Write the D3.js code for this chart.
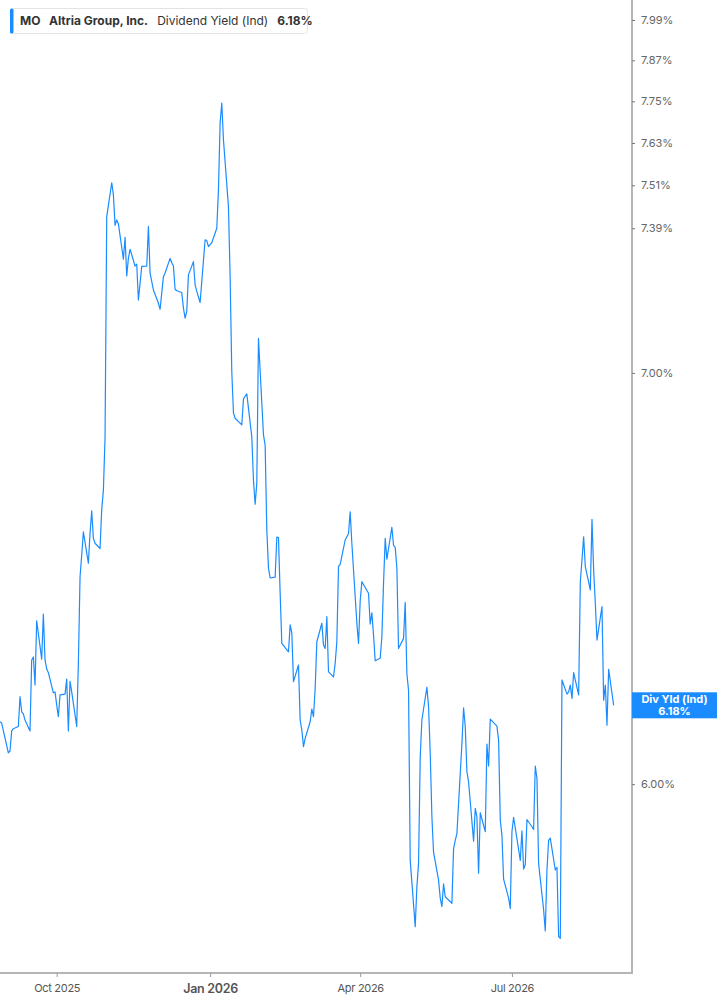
<!DOCTYPE html>
<html>
<head>
<meta charset="utf-8">
<script src="https://cdn.jsdelivr.net/npm/d3@7"></script>
<style>
  body { margin: 0; background: #fff; font-family: Inter, "Noto Sans", sans-serif; }
</style>
</head>
<body>
<div id="chart"></div>
<script>
// MO dividend yield, one value per trading day
const startDate = "2025-08-28";
const holidays = ["2025-09-01", "2025-11-27", "2025-12-25", "2026-01-01", "2026-01-19",
  "2026-02-16", "2026-04-03", "2026-05-25", "2026-06-19", "2026-07-03"];

const yieldValues = [
  6.142, 6.139, 6.071, 6.075, 6.121, 6.126, 6.131, 6.200, 6.165, 6.160,
  6.146, 6.121, 6.286, 6.293, 6.227, 6.379, 6.288, 6.395, 6.286, 6.265,
  6.256, 6.209, 6.211, 6.181, 6.154, 6.204, 6.206, 6.241, 6.121, 6.236,
  6.211, 6.131, 6.279, 6.485, 6.538, 6.595, 6.518, 6.592, 6.647, 6.579,
  6.567, 6.554, 6.651, 6.699, 6.834, 7.422, 7.517, 7.483, 7.398, 7.413,
  7.402, 7.305, 7.365, 7.259, 7.307, 7.332, 7.286, 7.291, 7.194, 7.239,
  7.285, 7.286, 7.395, 7.267, 7.221, 7.185, 7.169, 7.213, 7.257, 7.267,
  7.307, 7.295, 7.286, 7.223, 7.219, 7.214, 7.172, 7.145, 7.163, 7.262,
  7.298, 7.235, 7.217, 7.187, 7.358, 7.356, 7.339, 7.350, 7.390, 7.497,
  7.687, 7.745, 7.639, 7.450, 7.257, 7.003, 6.896, 6.882, 6.865, 6.932,
  6.939, 6.945, 6.834, 6.724, 6.664, 6.716, 7.091, 6.839, 6.813, 6.600,
  6.506, 6.482, 6.484, 6.582, 6.581, 6.445, 6.325, 6.305, 6.369, 6.350,
  6.235, 6.274, 6.146, 6.123, 6.085, 6.104, 6.142, 6.171, 6.154, 6.219,
  6.329, 6.373, 6.321, 6.313, 6.389, 6.258, 6.246, 6.278, 6.329, 6.510,
  6.515, 6.575, 6.583, 6.591, 6.645, 6.567, 6.373, 6.325, 6.427, 6.473,
  6.445, 6.371, 6.398, 6.345, 6.284, 6.290, 6.341, 6.469, 6.579, 6.528,
  6.606, 6.562, 6.557, 6.506, 6.313, 6.337, 6.423, 6.254, 6.215, 5.831,
  5.688, 5.774, 5.824, 6.062, 6.146, 6.222, 6.177, 6.070, 5.927, 5.849,
  5.788, 5.749, 5.731, 5.780, 5.752, 5.738, 5.857, 5.875, 5.890, 6.092,
  6.174, 6.131, 6.028, 6.005, 5.873, 5.946, 5.927, 5.803, 5.936, 5.894,
  6.091, 6.041, 6.148, 6.132, 6.100, 5.920, 5.886, 5.790, 5.749, 5.727,
  5.894, 5.926, 5.831, 5.896, 5.812, 5.822, 5.921, 5.905, 5.899, 6.041,
  6.013, 5.824, 5.724, 5.679, 5.810, 5.875, 5.880, 5.810, 5.816, 5.667,
  5.663, 6.239, 6.206, 6.211, 6.227, 6.196, 6.256, 6.204, 6.473, 6.526,
  6.583, 6.510, 6.453, 6.626, 6.502, 6.421, 6.333, 6.413, 6.192, 6.227,
  6.134, 6.264, 6.180
];

const yTicks = [6.00, 7.00, 7.39, 7.51, 7.63, 7.75, 7.87, 7.99];
const xTickDates = ["2025-10-01", "2026-01-01", "2026-04-01", "2026-07-01"];
const xTickLabels = ["Oct 2025", "Jan 2026", "Apr 2026", "Jul 2026"];
const yDomain = [5.59, 8.05];
const xDomain = ["2025-08-28", "2026-09-11"];

const ticker = "MO";
const company = "Altria Group, Inc.";
const metric = "Dividend Yield (Ind)";
const lastLabel = "Div Yld (Ind)";

const width = 717;
const height = 1005;
const plotRight = 632;
const plotBottom = 973;

const parse = d3.utcParse("%Y-%m-%d");
const fmtDay = d3.utcFormat("%Y-%m-%d");

// trading calendar: weekdays minus market holidays
const holidaySet = new Set(holidays);
const dates = [];
let day = parse(startDate);
while (dates.length < yieldValues.length) {
    const wd = day.getUTCDay();
    if (wd !== 0 && wd !== 6 && !holidaySet.has(fmtDay(day))) dates.push(day);
    day = d3.utcDay.offset(day, 1);
}
const data = yieldValues.map((v, i) => ({date: dates[i], value: v}));

const x = d3.scaleUtc()
    .domain(xDomain.map(parse))
    .range([0, plotRight]);

const y = d3.scaleLog()
    .domain(yDomain)
    .range([plotBottom, 0]);

const svg = d3.select("#chart").append("svg")
    .attr("width", width)
    .attr("height", height)
    .style("display", "block");

// series line
svg.append("path")
    .datum(data)
    .attr("fill", "none")
    .attr("stroke", "#1a8cff")
    .attr("stroke-width", 1.2)
    .attr("stroke-linejoin", "round")
    .attr("d", d3.line().x(d => x(d.date)).y(d => y(d.value)));

// right axis
const yAxis = svg.append("g")
    .attr("transform", `translate(${plotRight},0)`)
    .call(d3.axisRight(y).tickValues(yTicks).tickFormat(d => d.toFixed(2) + "%").tickSize(3).tickPadding(6));
yAxis.select(".domain").attr("stroke", "#b5b5b5").attr("stroke-width", 2)
    .attr("d", `M0,0V${plotBottom}`);
yAxis.selectAll(".tick line").attr("stroke", "#777");
yAxis.selectAll(".tick text")
    .attr("fill", "#666")
    .style("font-size", "11px")
    .style("font-family", "Inter, sans-serif");

// bottom axis
const xAxis = svg.append("g")
    .attr("transform", `translate(0,${plotBottom})`)
    .call(d3.axisBottom(x).tickValues(xTickDates.map(parse))
        .tickFormat((d, i) => xTickLabels[i]).tickSize(4).tickPadding(7));
xAxis.select(".domain").attr("stroke", "#b5b5b5").attr("stroke-width", 2)
    .attr("d", `M0,0H${plotRight + 1}`);
xAxis.selectAll(".tick line").attr("stroke", "#999");
xAxis.selectAll(".tick text")
    .attr("fill", "#555")
    .style("font-family", "Inter, sans-serif")
    .style("font-size", (d, i) => xTickLabels[i].startsWith("Jan") ? "12.5px" : "11px")
    .style("font-weight", (d, i) => xTickLabels[i].startsWith("Jan") ? "600" : "400")
    .style("letter-spacing", "-0.3px");

// last value flag
const last = data[data.length - 1];
const flagY = y(last.value);
const flag = svg.append("g").attr("transform", `translate(${plotRight},${flagY})`);
flag.append("rect")
    .attr("x", 0).attr("y", -13)
    .attr("width", width - plotRight).attr("height", 26)
    .attr("fill", "#1a8cff");
flag.append("text")
    .attr("x", (width - plotRight) / 2).attr("y", -2.5)
    .attr("text-anchor", "middle")
    .attr("fill", "#fff")
    .style("font-size", "11px").style("font-weight", "700")
    .text(lastLabel);
flag.append("text")
    .attr("x", (width - plotRight) / 2).attr("y", 9.5)
    .attr("text-anchor", "middle")
    .attr("fill", "#fff")
    .style("font-size", "11px").style("font-weight", "700")
    .text(last.value.toFixed(2) + "%");

// legend box
const legend = svg.append("g").attr("transform", "translate(10,8)");
legend.append("rect")
    .attr("x", 0.5).attr("y", 0.5)
    .attr("width", 297).attr("height", 25)
    .attr("rx", 3)
    .attr("fill", "#fff")
    .attr("stroke", "#e3e3e3");
legend.append("rect")
    .attr("x", 0).attr("y", 0.5)
    .attr("width", 3.5).attr("height", 25)
    .attr("rx", 1.5)
    .attr("fill", "#1a8cff");
const lt = legend.append("text")
    .attr("x", 10).attr("y", 17)
    .attr("fill", "#333")
    .style("font-size", "12px");
lt.append("tspan").style("font-weight", "700").text(ticker);
lt.append("tspan").attr("dx", 9).style("font-weight", "700").text(company);
lt.append("tspan").attr("dx", 9).style("font-weight", "400").text(metric);
lt.append("tspan").attr("dx", 9).style("font-weight", "700").text(last.value.toFixed(2) + "%");
</script>
</body>
</html>
